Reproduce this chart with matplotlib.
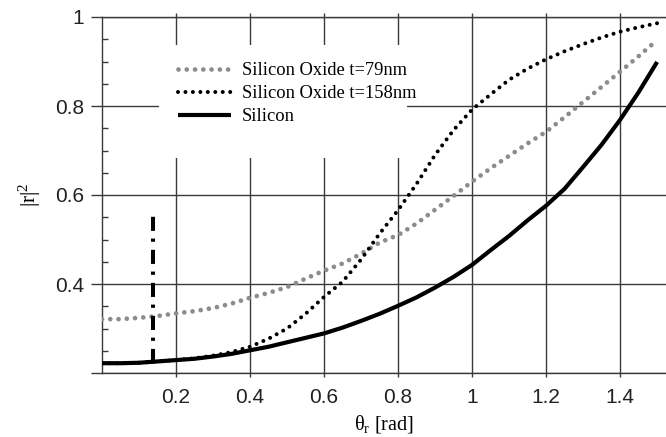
import matplotlib
matplotlib.use("Agg")
import matplotlib.pyplot as plt
from matplotlib.patches import Rectangle

plt.rcParams['mathtext.fontset'] = 'custom'
plt.rcParams['mathtext.rm'] = 'Liberation Serif'
plt.rcParams['mathtext.default'] = 'rm'

# ---- data ----
theta = [0.00, 0.05, 0.10, 0.15, 0.20, 0.25, 0.30, 0.35, 0.40, 0.45,
         0.50, 0.55, 0.60, 0.65, 0.70, 0.75, 0.80, 0.85, 0.90, 0.95,
         1.00, 1.05, 1.10, 1.15, 1.20, 1.25, 1.30, 1.35, 1.40, 1.45, 1.50]

oxide_79 = [0.321, 0.321, 0.324, 0.328, 0.334, 0.339, 0.346, 0.356, 0.369, 0.380,
            0.393, 0.412, 0.430, 0.446, 0.468, 0.493, 0.510, 0.536, 0.567, 0.598,
            0.630, 0.660, 0.688, 0.716, 0.742, 0.775, 0.809, 0.843, 0.877, 0.912, 0.948]

oxide_158 = [0.222, 0.222, 0.223, 0.226, 0.229, 0.233, 0.239, 0.247, 0.259, 0.277,
             0.300, 0.333, 0.371, 0.405, 0.455, 0.513, 0.566, 0.625, 0.690, 0.746,
             0.792, 0.826, 0.859, 0.884, 0.905, 0.923, 0.939, 0.954, 0.967, 0.977, 0.986]

silicon = [0.222, 0.222, 0.223, 0.226, 0.229, 0.232, 0.237, 0.243, 0.251, 0.259,
           0.269, 0.279, 0.289, 0.302, 0.317, 0.333, 0.351, 0.370, 0.392, 0.416,
           0.443, 0.476, 0.508, 0.543, 0.576, 0.614, 0.663, 0.713, 0.769, 0.831, 0.899]

marker_theta = 0.138
marker_range = [0.222, 0.560]

labels = ['Silicon Oxide t=79nm', 'Silicon Oxide t=158nm', 'Silicon']
xticks = [0.2, 0.4, 0.6, 0.8, 1.0, 1.2, 1.4]
xticklabels = ['0.2', '0.4', '0.6', '0.8', '1', '1.2', '1.4']
yticks = [0.2, 0.4, 0.6, 0.8, 1.0]
yticklabels = ['', '0.4', '0.6', '0.8', '1']

# ---- figure ----
fig = plt.figure(figsize=(6.66, 4.37), dpi=100)
ax = fig.add_axes([102/666, 64/437, 564/666, 356/437])

gridc = '#3a3a3a'
ax.set_xlim(0, 1.524)
ax.set_ylim(0.2, 1.0)
ax.set_axisbelow(True)
ax.grid(True, which='major', color=gridc, lw=1.0)

# white legend background that hides the grid
ax.add_patch(Rectangle((0.101, 0.604), 0.44, 0.317, transform=ax.transAxes,
                       facecolor='white', edgecolor='none', zorder=1))

l1, = ax.plot(theta, oxide_79, color='#8c8c8c', lw=3.4,
              linestyle=(0, (0.001, 1.75)), dash_capstyle='round', zorder=3)
l2, = ax.plot(theta, oxide_158, color='black', lw=2.9,
              linestyle=(0, (0.001, 1.85)), dash_capstyle='round', zorder=3)
l3, = ax.plot(theta, silicon, color='black', lw=3.0, solid_capstyle='butt', zorder=4)
ax.plot([marker_theta, marker_theta], marker_range, color='black', lw=2.9,
        linestyle=(0, (3.5, 2.0, 0.8, 1.9)), dash_capstyle='butt', zorder=5)

for s in ['right']:
    ax.spines[s].set_visible(False)
for s in ['left', 'bottom', 'top']:
    ax.spines[s].set_color(gridc)
    ax.spines[s].set_linewidth(1.0)

ax.set_xticks(xticks)
ax.set_xticklabels(xticklabels)
ax.set_yticks(yticks)
ax.set_yticklabels(yticklabels)
ax.set_yticks([0.25, 0.3, 0.35, 0.45, 0.5, 0.55, 0.65, 0.7, 0.75, 0.85, 0.9, 0.95], minor=True)

ax.tick_params(axis='x', which='major', direction='out', length=3, width=1.0,
               color=gridc, top=True, labelsize=15, labelcolor='#222222', pad=8)
ax.tick_params(axis='y', which='major', direction='out', length=8, width=1.0,
               color=gridc, labelsize=15, labelcolor='#222222', pad=5)
ax.tick_params(axis='y', which='minor', direction='in', length=4.5, width=1.0,
               color=gridc)
for t in ax.get_xticklabels() + ax.get_yticklabels():
    t.set_fontfamily('Liberation Sans')

ax.set_xlabel('\u03b8$_{\\mathrm{r}}$ [rad]', fontfamily='Liberation Serif',
              fontsize=14.5, labelpad=4)
ax.set_ylabel('|r|$^{2}$', fontfamily='Liberation Serif', fontsize=15.5)
ax.yaxis.set_label_coords(-0.105, 0.5)

leg = ax.legend([l1, l2, l3], labels, loc='upper left',
                bbox_to_anchor=(0.135, 0.873), frameon=False,
                prop={'family': 'Liberation Serif', 'size': 13.3},
                handlelength=2.85, handletextpad=0.6, labelspacing=0.33,
                borderpad=0, borderaxespad=0)

fig.savefig('out.png', dpi=100)
